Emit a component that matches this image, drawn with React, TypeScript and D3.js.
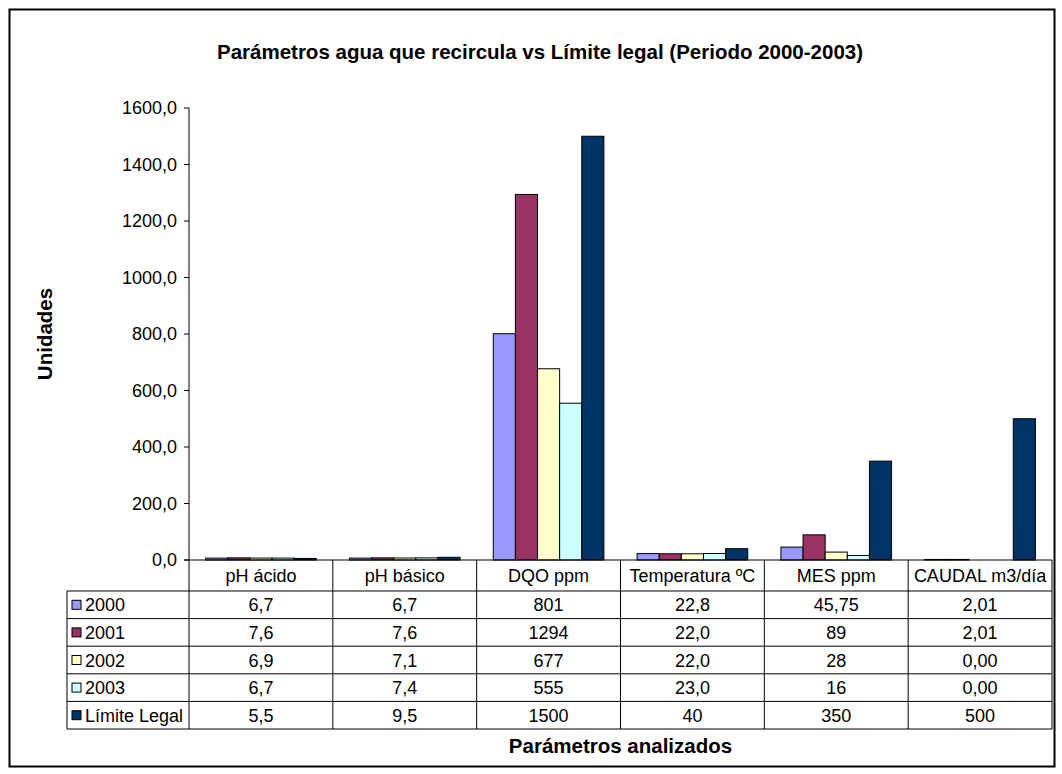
import React from "react";
import * as d3 from "d3";

const categories = ["pH ácido", "pH básico", "DQO ppm", "Temperatura ºC", "MES ppm", "CAUDAL m3/día"];
const seriesNames = ["2000", "2001", "2002", "2003", "Límite Legal"];
const values2000 = [6.7, 6.7, 801, 22.8, 45.75, 2.01];
const values2001 = [7.6, 7.6, 1294, 22.0, 89, 2.01];
const values2002 = [6.9, 7.1, 677, 22.0, 28, 0.0];
const values2003 = [6.7, 7.4, 555, 23.0, 16, 0.0];
const valuesLimite = [5.5, 9.5, 1500, 40, 350, 500];
const labels2000 = ["6,7", "6,7", "801", "22,8", "45,75", "2,01"];
const labels2001 = ["7,6", "7,6", "1294", "22,0", "89", "2,01"];
const labels2002 = ["6,9", "7,1", "677", "22,0", "28", "0,00"];
const labels2003 = ["6,7", "7,4", "555", "23,0", "16", "0,00"];
const labelsLimite = ["5,5", "9,5", "1500", "40", "350", "500"];
const yTicks = [0, 200, 400, 600, 800, 1000, 1200, 1400, 1600];
const colors = ["#9999FF", "#993366", "#FFFFCC", "#CCFFFF", "#003366"];

const seriesValues = [values2000, values2001, values2002, values2003, valuesLimite];
const seriesLabels = [labels2000, labels2001, labels2002, labels2003, labelsLimite];

const W = 1062;
const H = 774;
const plotLeft = 189;
const plotRight = 1052;
const plotTop = 108;
const plotBottom = 560;
const headerBottom = 591;
const rowH = 27.6;
const tableLeft = 67;
const FONT = "'Liberation Sans', Arial, sans-serif";

export default function App() {
  const x = d3.scaleBand<string>().domain(categories).range([plotLeft, plotRight]).paddingInner(0).paddingOuter(0);
  const y = d3.scaleLinear().domain([0, 1600]).range([plotBottom, plotTop]);
  const inner = d3.scaleBand<string>().domain(seriesNames).range([0, x.bandwidth()]).paddingInner(0).paddingOuter(0.75);
  const fmt = (v: number) => d3.format(".1f")(v).replace(".", ",");
  const tableBottom = headerBottom + rowH * seriesNames.length;

  return (
    <svg width={W} height={H} style={{ position: "absolute", left: 0, top: 0, background: "#fff" }} fontFamily={FONT}>
      <rect x={0} y={0} width={W} height={H} fill="#fff" />
      <rect x={9.5} y={9.5} width={1045} height={757} fill="none" stroke="#000" strokeWidth={2} />
      <text x={540} y={59} textAnchor="middle" fontSize={20.5} fontWeight="bold">
        Parámetros agua que recircula vs Límite legal (Periodo 2000-2003)
      </text>
      {/* bars */}
      {seriesValues.map((vals, si) => (
        <g key={si}>
          {vals.map((v, ci) => (
            <rect
              key={ci}
              x={(x(categories[ci]) as number) + (inner(seriesNames[si]) as number)}
              y={y(v)}
              width={inner.bandwidth()}
              height={plotBottom - y(v)}
              fill={colors[si]}
              stroke="#000"
              strokeWidth={1}
            />
          ))}
        </g>
      ))}
      {/* y axis */}
      <line x1={plotLeft} x2={plotLeft} y1={plotTop} y2={plotBottom} stroke="#000" strokeWidth={1} />
      {yTicks.map((t) => (
        <g key={t}>
          <line x1={plotLeft - 5} x2={plotLeft} y1={y(t)} y2={y(t)} stroke="#000" />
          <text x={177} y={y(t) + 6} textAnchor="end" fontSize={18}>
            {fmt(t)}
          </text>
        </g>
      ))}
      {/* table */}
      <line x1={plotLeft - 5} x2={plotRight} y1={plotBottom} y2={plotBottom} stroke="#000" />
      {categories.map((c, i) => (
        <g key={c}>
          <line x1={x(c) as number} x2={x(c) as number} y1={plotBottom} y2={tableBottom} stroke="#000" />
          <text x={(x(c) as number) + x.bandwidth() / 2} y={plotBottom + 22} textAnchor="middle" fontSize={18}>
            {c}
          </text>
        </g>
      ))}
      <line x1={plotRight} x2={plotRight} y1={plotBottom} y2={tableBottom} stroke="#000" />
      <line x1={tableLeft} x2={tableLeft} y1={headerBottom} y2={tableBottom} stroke="#000" />
      {seriesNames.map((s, si) => {
        const top = headerBottom + rowH * si;
        return (
          <g key={s}>
            <line x1={tableLeft} x2={plotRight} y1={top} y2={top} stroke="#000" />
            <rect x={tableLeft + 5} y={top + rowH / 2 - 4.5} width={9} height={9} fill={colors[si]} stroke="#000" />
            <text x={tableLeft + 18} y={top + rowH / 2 + 6.5} fontSize={18}>
              {s}
            </text>
            {seriesLabels[si].map((lab, ci) => (
              <text
                key={ci}
                x={(x(categories[ci]) as number) + x.bandwidth() / 2}
                y={top + rowH / 2 + 6.5}
                textAnchor="middle"
                fontSize={18}
              >
                {lab}
              </text>
            ))}
          </g>
        );
      })}
      <line x1={tableLeft} x2={plotRight} y1={tableBottom} y2={tableBottom} stroke="#000" />
      <text x={(plotLeft + plotRight) / 2} y={753} textAnchor="middle" fontSize={20.5} fontWeight="bold">
        Parámetros analizados
      </text>
      <text
        transform={`translate(52, ${(plotTop + plotBottom) / 2}) rotate(-90)`}
        textAnchor="middle"
        fontSize={20.5}
        fontWeight="bold"
      >
        Unidades
      </text>
    </svg>
  );
}
